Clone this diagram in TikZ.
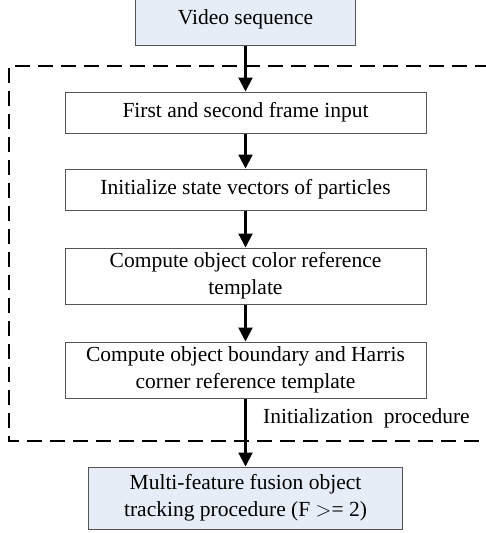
\documentclass[tikz,border=0pt]{standalone}
\usepackage{fontspec}
\setmainfont{Liberation Serif}
\usetikzlibrary{arrows.meta}
\definecolor{boxblue}{HTML}{E6EDF7}
\definecolor{edgegray}{HTML}{555555}
\begin{document}
\begin{tikzpicture}[x=1pt,y=-1pt,
  stepbox/.style={draw=edgegray,line width=1pt,fill=white,minimum width=361pt,align=center,font=\fontsize{21.5}{27}\selectfont,inner sep=0pt},
  bluebox/.style={stepbox,fill=boxblue},
  flow/.style={line width=2.2pt,-{Triangle[length=14pt,width=14pt]}}]
\useasboundingbox (0,0) rectangle (486,533);
\draw[line width=2pt,dash pattern=on 15pt off 8pt] (490,66) -- (9,66) -- (9,441) -- (490,441);
\node[bluebox,minimum width=220pt,minimum height=52pt] (vid) at (245.5,19) {Video sequence};
\node[stepbox,minimum height=41pt] (b1) at (245.5,112.5) {First and second frame input};
\node[stepbox,minimum height=41pt] (b2) at (245.5,189.5) {Initialize state vectors of particles};
\node[stepbox,minimum height=56pt] (b3) at (245.5,276) {Compute object color reference\\template};
\node[stepbox,minimum height=56pt] (b4) at (245.5,370) {Compute object boundary and Harris\\corner reference template};
\node[bluebox,minimum width=314pt,minimum height=62pt] (fin) at (245.5,498) {Multi-feature fusion object\\tracking procedure (F $>$= 2)};
\node[anchor=west,font=\fontsize{21.5}{26}\selectfont,inner sep=0pt] (lab) at (263,418) {Initialization\ \ procedure};
\draw[flow] (vid) -- (b1);
\draw[flow] (b1) -- (b2);
\draw[flow] (b2) -- (b3);
\draw[flow] (b3) -- (b4);
\draw[flow] (b4) -- (fin);
\end{tikzpicture}
\end{document}
